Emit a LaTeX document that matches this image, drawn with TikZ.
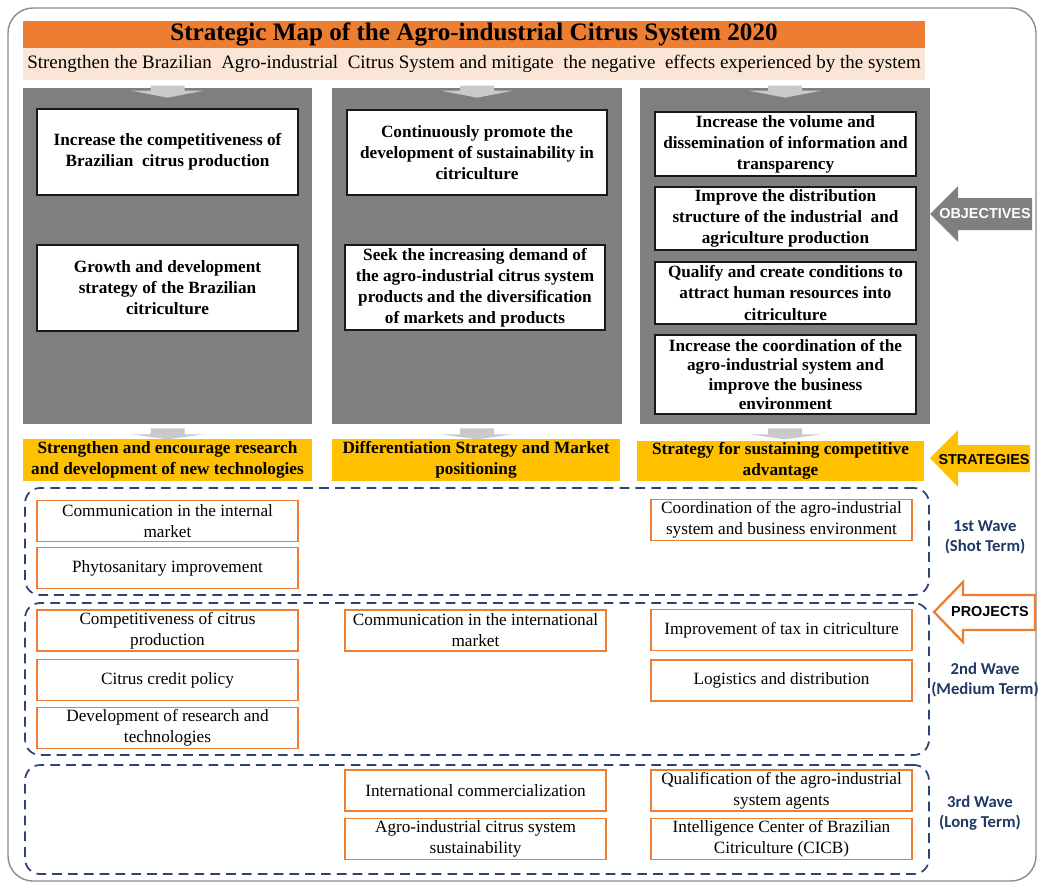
\documentclass[tikz,border=0pt]{standalone}
\usepackage{fontspec}
\setmainfont{Liberation Serif}
\newfontfamily\wavefont{Carlito}
\newfontfamily\tagfont{Liberation Sans}
\usetikzlibrary{calc,positioning}
\definecolor{titleorange}{HTML}{ED7D31}
\definecolor{subpeach}{HTML}{FBE5D6}
\definecolor{colgray}{HTML}{7F7F7F}
\definecolor{arrgray}{HTML}{C9C9C9}
\definecolor{stryellow}{HTML}{FFC000}
\definecolor{wavblue}{HTML}{2B4474}
\definecolor{lblblue}{HTML}{1F3864}
\definecolor{framegray}{HTML}{8C8C8C}
\begin{document}
\begin{tikzpicture}[x = 0.02cm, y = -0.02cm,
		column/.style = {fill = colgray, inner sep = 0pt, minimum height = 6.72cm},
		objbox/.style = {draw = black!90, line width = 1.1pt, fill = white, align = center, inner sep = 0pt, font = \bfseries\fontsize{9.8}{12}\selectfont},
		strbox/.style = {fill = stryellow, align = center, inner sep = 0pt, minimum height = 0.84cm, font = \bfseries\fontsize{9.8}{12}\selectfont},
		prjbox/.style = {draw = titleorange, line width = 1pt, fill = white, align = center, inner sep = 0pt, minimum width = 5.22cm, minimum height = 0.82cm, font = \fontsize{9.8}{12}\selectfont},
		wave/.style = {draw = wavblue, line width = 1pt, dash pattern = on 5.5pt off 3.5pt, rounded corners = 0.3cm, inner sep = 0pt, minimum width = 18.08cm},
		wavelabel/.style = {text = lblblue, align = center, font = \wavefont\bfseries\fontsize{9.5}{11.5}\selectfont},
		tag/.style = {font = \tagfont\bfseries\fontsize{8.2}{10}\selectfont}]
		\useasboundingbox (0,0) rectangle (1038,883);
		\draw[framegray, line width = 0.8pt, rounded corners = 0.5cm] (8,8) rectangle (1036,881);

		\node[fill = titleorange, minimum width = 18.04cm, minimum height = 0.54cm, inner sep = 0pt, font = \bfseries\fontsize{14.3}{15}\selectfont] (title) at (474,34.5) {Strategic Map of the Agro-industrial Citrus System 2020};
		\node[fill = subpeach, minimum width = 18.04cm, minimum height = 0.64cm, inner sep = 0pt, font = \fontsize{10.8}{12}\selectfont] (sub) at (474,64) {Strengthen the Brazilian\ \ Agro-industrial\ \ Citrus System and mitigate\ \ the negative\ \ effects experienced by the system};

		\node[column, minimum width = 5.78cm] (colA) at (167.5,256) {};
		\node[column, minimum width = 5.8cm] (colB) at (477,256) {};
		\node[column, minimum width = 5.8cm] (colC) at (785,256) {};

		\node[strbox, minimum width = 5.78cm] (strA) at (167.5,460) {Strengthen and encourage research\\and development of new technologies};
		\node[strbox, minimum width = 5.76cm] (strB) at (476,460) {Differentiation Strategy and Market\\positioning};
		\node[strbox, minimum width = 5.74cm, minimum height = 0.8cm] (strC) at (780.5,461) {Strategy for sustaining competitive\\advantage};

		\foreach \c in {colA, colB, colC} {
			\fill[arrgray] ($(\c.north)+(-17,-2)$) -- ($(\c.north)+(17,-2)$) -- ($(\c.north)+(17,3)$) -- ($(\c.north)+(36,3)$) -- ($(\c.north)+(0,10)$) -- ($(\c.north)+(-36,3)$) -- ($(\c.north)+(-17,3)$) -- cycle;
			\fill[arrgray] ($(\c.south)+(-17,4)$) -- ($(\c.south)+(17,4)$) -- ($(\c.south)+(17,10)$) -- ($(\c.south)+(36,10)$) -- ($(\c.south)+(0,15)$) -- ($(\c.south)+(-36,10)$) -- ($(\c.south)+(-17,10)$) -- cycle;
		}

		\node[objbox, minimum width = 5.22cm, minimum height = 1.72cm] (objA1) at (167.5,152) {Increase the competitiveness of\\Brazilian\ \ citrus production};
		\node[objbox, minimum width = 5.22cm, minimum height = 1.72cm] (objA2) at (167.5,288) {Growth and development\\strategy of the Brazilian\\citriculture};
		\node[objbox, minimum width = 5.2cm, minimum height = 1.7cm] (objB1) at (477,152.5) {Continuously promote the\\development of sustainability in\\citriculture};
		\node[objbox, minimum width = 5.2cm, minimum height = 1.7cm] (objB2) at (475,287.5) {Seek the increasing demand of\\the agro-industrial citrus system\\products and the diversification\\of markets and products};
		\node[objbox, minimum width = 5.22cm, minimum height = 1.28cm] (objC1) at (785.5,144) {Increase the volume and\\dissemination of information and\\transparency};
		\node[objbox, minimum width = 5.22cm, minimum height = 1.26cm] (objC2) at (785.5,218.5) {Improve the distribution\\structure of the industrial\ \ and\\agriculture production};
		\node[objbox, minimum width = 5.22cm, minimum height = 1.24cm] (objC3) at (785.5,293) {Qualify and create conditions to\\attract human resources into\\citriculture};
		\node[objbox, minimum width = 5.22cm, minimum height = 1.58cm, font = \bfseries\fontsize{9.8}{11}\selectfont] (objC4) at (785.5,374.5) {Increase the coordination of the\\agro-industrial system and\\improve the business\\environment};

		\fill[colgray] (930,214) -- (958,186) -- (958,198) -- (1032,198) -- (1032,230) -- (958,230) -- (958,242) -- cycle;
		\node[tag, text = white] (objtag) at (985,214) {OBJECTIVES};
		\fill[stryellow] (930,458) -- (958,430) -- (958,445) -- (1030,445) -- (1030,472) -- (958,472) -- (958,487) -- cycle;
		\node[tag] (strtag) at (984,460) {STRATEGIES};
		\draw[titleorange, line width = 1.3pt, fill = white] (934,612) -- (963,582) -- (963,595) -- (1035,595) -- (1035,630) -- (963,630) -- (963,642) -- cycle;
		\node[tag] (prjtag) at (990,612) {PROJECTS};

		\node[wave, minimum height = 2.14cm] (waveI) at (477,541.5) {};
		\node[wave, minimum height = 3.04cm] (waveII) at (477,679) {};
		\node[wave, minimum height = 2.18cm] (waveIII) at (477,819.5) {};
		\node[wavelabel] (lblI) at (985,537) {1st Wave\\(Shot Term)};
		\node[wavelabel] (lblII) at (985,680) {2nd Wave\\(Medium Term)};
		\node[wavelabel] (lblIII) at (980,813) {3rd Wave\\(Long Term)};

		\node[prjbox] (prjA1) at (167.5,521) {Communication in the internal\\market};
		\node[prjbox] (prjA2) at (167.5,568) {Phytosanitary improvement};
		\node[prjbox] (prjC1) at (781.5,520) {Coordination of the agro-industrial\\system and business environment};

		\node[prjbox] (prjA3) at (167.5,630.5) {Competitiveness of citrus\\production};
		\node[prjbox] (prjA4) at (167.5,680) {Citrus credit policy};
		\node[prjbox] (prjA5) at (167.5,728) {Development of research and\\technologies};
		\node[prjbox] (prjB1) at (475.5,630.5) {Communication in the international\\market};
		\node[prjbox] (prjC2) at (781.5,630) {Improvement of tax in citriculture};
		\node[prjbox] (prjC3) at (781.5,680.5) {Logistics and distribution};

		\node[prjbox] (prjB2) at (475.5,790.5) {International commercialization};
		\node[prjbox] (prjB3) at (475.5,839) {Agro-industrial citrus system\\sustainability};
		\node[prjbox] (prjC4) at (781.5,790.5) {Qualification of the agro-industrial\\system agents};
		\node[prjbox] (prjC5) at (781.5,839) {Intelligence Center of Brazilian\\Citriculture (CICB)};
	\end{tikzpicture}
\end{document}
